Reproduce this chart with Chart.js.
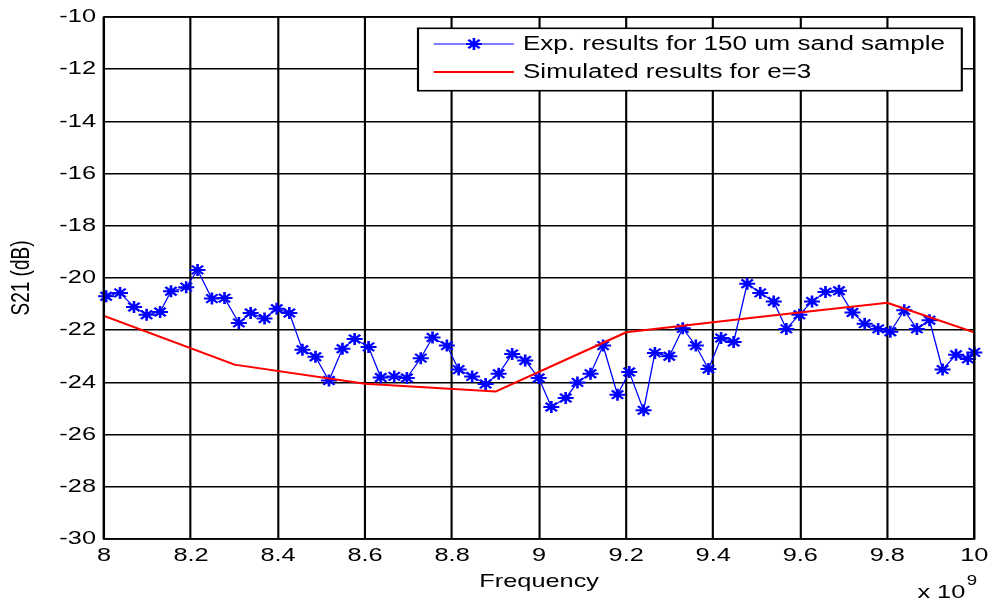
<!DOCTYPE html>
<html><head><meta charset="utf-8">
<script src="https://cdn.jsdelivr.net/npm/chart.js@4.4.1/dist/chart.umd.min.js"></script>
<style>html,body{margin:0;padding:0;background:#fff;overflow:hidden}canvas{display:block}</style>
</head><body>
<canvas id="c" width="742" height="605"></canvas>
<script>
// ---- data (frequency in GHz, displayed with "x 10^9") ----
const expFreq = [8.005, 8.037, 8.069, 8.098, 8.129, 8.154, 8.189, 8.215, 8.248, 8.277,
  8.310, 8.337, 8.369, 8.397, 8.426, 8.456, 8.486, 8.517, 8.548, 8.576,
  8.608, 8.636, 8.667, 8.696, 8.728, 8.755, 8.788, 8.815, 8.846, 8.877,
  8.907, 8.938, 8.968, 8.999, 9.028, 9.061, 9.088, 9.118, 9.147, 9.180,
  9.207, 9.240, 9.266, 9.299, 9.330, 9.360, 9.389, 9.418, 9.447, 9.478,
  9.508, 9.539, 9.568, 9.598, 9.627, 9.658, 9.689, 9.720, 9.748, 9.779,
  9.807, 9.839, 9.868, 9.897, 9.927, 9.958, 9.985, 10.000];
const expS21 = [-20.70, -20.57, -21.11, -21.41, -21.30, -20.51, -20.35, -19.69, -20.79, -20.77,
  -21.72, -21.34, -21.55, -21.18, -21.34, -22.75, -23.02, -23.93, -22.71, -22.34,
  -22.64, -23.81, -23.77, -23.83, -23.07, -22.28, -22.59, -23.51, -23.77, -24.06,
  -23.67, -22.91, -23.16, -23.83, -24.94, -24.60, -24.00, -23.67, -22.59, -24.47,
  -23.60, -25.07, -22.87, -23.00, -21.93, -22.59, -23.49, -22.30, -22.45, -20.22,
  -20.57, -20.90, -21.95, -21.41, -20.90, -20.54, -20.49, -21.32, -21.75, -21.95,
  -22.06, -21.24, -21.95, -21.62, -23.51, -22.94, -23.10, -22.85];
const simFreq = [8.0, 8.3, 8.6, 8.9, 9.2, 9.5, 9.8, 10.0];
const simS21 = [-21.45, -23.32, -24.05, -24.35, -22.08, -21.50, -20.95, -22.08];
const xTickValues = [8, 8.2, 8.4, 8.6, 8.8, 9, 9.2, 9.4, 9.6, 9.8, 10];
const xTickLabels = ['8', '8.2', '8.4', '8.6', '8.8', '9', '9.2', '9.4', '9.6', '9.8', '10'];
const yTickValues = [-30, -28, -26, -24, -22, -20, -18, -16, -14, -12, -10];
const yTickLabels = ['-30', '-28', '-26', '-24', '-22', '-20', '-18', '-16', '-14', '-12', '-10'];
const seriesNames = ['Exp. results for 150 um sand sample', 'Simulated results for e=3'];
const xTitle = 'Frequency';
const yTitle = 'S21 (dB)';
const xExponentBase = 'x 10';
const xExponentPower = '9';

// ---- drawing ----
const OUT_W = 989, IN_W = 742;
const SX = OUT_W / IN_W;
const FONT = '"Liberation Sans", Arial, sans-serif';
const FS = 19;

const stretchPlugin = {
  id: 'stretch',
  beforeDraw(chart) {
    const cv = chart.canvas;
    if (cv.width !== OUT_W) {
      cv.width = OUT_W; cv.height = 605;
      cv.style.width = OUT_W + 'px'; cv.style.height = '605px';
    }
    chart.ctx.setTransform(SX, 0, 0, 1, 0, 0);
  }
};

const decorPlugin = {
  id: 'decor',
  afterDatasetsDraw(chart) {
    const ctx = chart.ctx, a = chart.chartArea;
    ctx.save();
    // axes box
    ctx.strokeStyle = '#000'; ctx.lineWidth = 1.6;
    ctx.strokeRect(a.left, a.top, a.right - a.left, a.bottom - a.top);
    // legend
    const lx = 313.6, ly = 28.3, lw = 408, lh = 62.4;
    ctx.fillStyle = '#fff';
    ctx.fillRect(lx, ly, lw, lh);
    ctx.strokeStyle = '#000'; ctx.lineWidth = 1.6;
    ctx.strokeRect(lx, ly, lw, lh);
    const rows = [44, 72];
    const colors = ['#0000ff', '#ff0000'];
    const widths = [1, 2];
    rows.forEach((y, i) => {
      ctx.strokeStyle = colors[i]; ctx.lineWidth = widths[i];
      ctx.beginPath(); ctx.moveTo(325.4, y); ctx.lineTo(385.6, y); ctx.stroke();
      if (i === 0) {
        ctx.lineWidth = 2;
        Chart.helpers.drawPoint(ctx, {pointStyle: 'star', radius: 6, borderWidth: 2}, 355.6, y);
      }
      ctx.fillStyle = '#000';
      ctx.font = '19.5px ' + FONT;
      ctx.textBaseline = 'middle'; ctx.textAlign = 'left';
      ctx.fillText(seriesNames[i], 392.4, y + 1);
    });
    // exponent label
    ctx.fillStyle = '#000';
    ctx.textBaseline = 'alphabetic'; ctx.textAlign = 'left';
    ctx.font = FS + 'px ' + FONT;
    const bw = ctx.measureText(xExponentBase).width;
    ctx.font = '14px ' + FONT;
    const pw = ctx.measureText(xExponentPower).width;
    const x0 = a.right - bw - pw + 1;
    ctx.font = FS + 'px ' + FONT;
    ctx.fillText(xExponentBase, x0, 598);
    ctx.font = '14px ' + FONT;
    ctx.fillText(xExponentPower, x0 + bw + 1, 585);
    ctx.restore();
  }
};

new Chart(document.getElementById('c').getContext('2d'), {
  type: 'scatter',
  data: {
    datasets: [
      {
        label: seriesNames[0],
        data: expFreq.map((f, i) => ({x: f, y: expS21[i]})),
        showLine: true,
        borderColor: '#0000ff',
        borderWidth: 1,
        pointStyle: 'star',
        pointRadius: 6,
        pointBorderWidth: 2,
        pointBorderColor: '#0000ff',
        pointBackgroundColor: '#0000ff',
        tension: 0,
        clip: 12,
        order: 1
      },
      {
        label: seriesNames[1],
        data: simFreq.map((f, i) => ({x: f, y: simS21[i]})),
        showLine: true,
        borderColor: '#ff0000',
        borderWidth: 2,
        pointRadius: 0,
        tension: 0,
        clip: 4,
        order: 0
      }
    ]
  },
  options: {
    responsive: false,
    animation: false,
    devicePixelRatio: 1,
    events: [],
    layout: {padding: {left: 0, right: 11, top: 17, bottom: 0}},
    plugins: {legend: {display: false}, tooltip: {enabled: false}},
    scales: {
      x: {
        type: 'linear', min: 8, max: 10,
        afterBuildTicks: s => { s.ticks = xTickValues.map(v => ({value: v})); },
        afterFit: s => { s.height = 66; s.paddingLeft = 0; s.paddingRight = 0; },
        ticks: {
          color: '#000', font: {family: FONT, size: FS}, padding: 5, maxRotation: 0, autoSkip: false,
          callback: (v) => { const i = xTickValues.findIndex(t => Math.abs(t - v) < 1e-6); return i >= 0 ? xTickLabels[i] : ''; }
        },
        grid: {color: '#000', lineWidth: 1.6, drawTicks: false},
        border: {display: false},
        title: {display: true, text: xTitle, color: '#000', font: {family: FONT, size: FS}, padding: {top: 0, bottom: 12}}
      },
      y: {
        type: 'linear', min: -30, max: -10,
        afterBuildTicks: s => { s.ticks = yTickValues.map(v => ({value: v})); },
        afterFit: s => { s.width = 78; s.paddingTop = 0; s.paddingBottom = 0; },
        ticks: {
          color: '#000', font: {family: FONT, size: FS}, padding: 6, autoSkip: false,
          callback: (v) => { const i = yTickValues.findIndex(t => Math.abs(t - v) < 1e-6); return i >= 0 ? yTickLabels[i] : ''; }
        },
        grid: {color: '#000', lineWidth: 1.6, drawTicks: false},
        border: {display: false},
        title: {display: true, text: yTitle, color: '#000', font: {family: FONT, size: FS}, padding: {top: 5, bottom: 0}}
      }
    }
  },
  plugins: [stretchPlugin, decorPlugin]
});
</script>
</body></html>
